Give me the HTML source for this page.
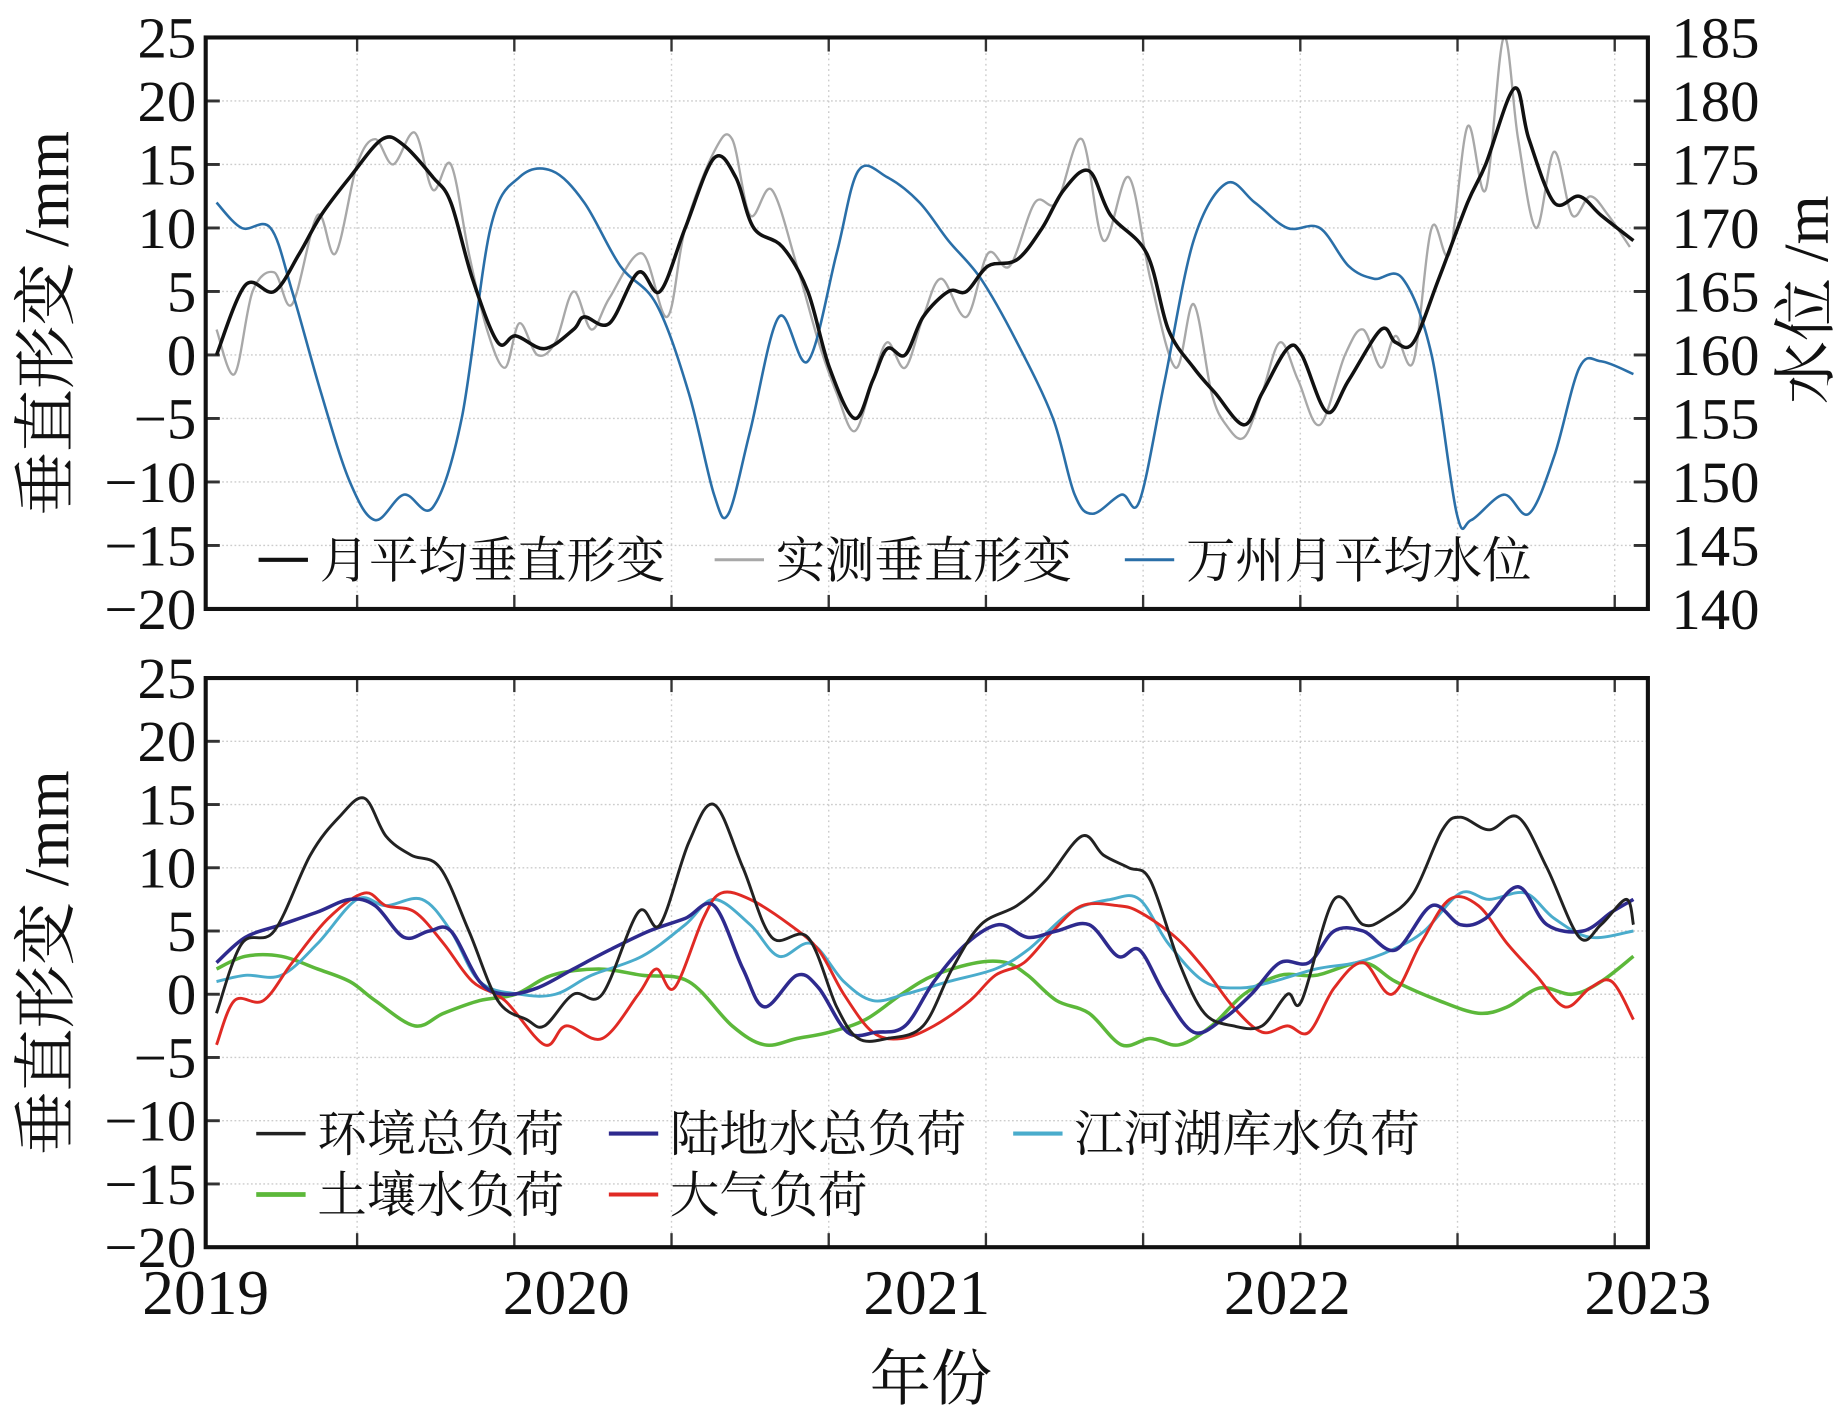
<!DOCTYPE html>
<html><head><meta charset="utf-8"><style>
html,body{margin:0;padding:0;background:#fff;}
svg{display:block;}
text{font-family:"Liberation Serif","Noto Serif CJK SC",serif;fill:#111;}
.cjk{font-family:"Liberation Serif","Noto Serif CJK SC","Noto Sans CJK SC",serif;}
</style></head><body>
<svg id="chart" width="1843" height="1417" viewBox="0 0 1568 1210" preserveAspectRatio="none" xmlns="http://www.w3.org/2000/svg">
<g id="topPanel"></g>
<g id="botPanel"></g>
</svg>
<script>
// ---- data (decimal years / values) ----
const yTicks=[25,20,15,10,5,0,-5,-10,-15,-20];
const yTickLabels=["25","20","15","10","5","0","\u22125","\u221210","\u221215","\u221220"];
const rTicks=[185,180,175,170,165,160,155,150,145,140];
const xYears=[2019,2020,2021,2022,2023];

const tMean=[2019.03,2019.11,2019.19,2019.26,2019.32,2019.40,2019.49,2019.55,2019.63,2019.68,2019.74,2019.81,2019.86,2019.94,2020.02,2020.05,2020.12,2020.20,2020.26,2020.33,2020.41,2020.47,2020.52,2020.60,2020.67,2020.73,2020.80,2020.85,2020.89,2020.94,2020.99,2021.06,2021.11,2021.17,2021.25,2021.32,2021.38,2021.45,2021.51,2021.61,2021.67,2021.74,2021.80,2021.88,2021.93,2022.00,2022.04,2022.11,2022.17,2022.26,2022.30,2022.35,2022.42,2022.50,2022.55,2022.63,2022.67,2022.74,2022.81,2022.87,2022.96];
const vMean=[0,5.5,5,8,11,14,17,16.5,14,12,6,1,1.5,0.5,2,3,2.5,6.5,5,10,15.5,14,10,8.5,5,-1,-5,-2,0.5,0,3,5,5,7,7.5,10,13,14.5,11,8,2,-1,-3,-5.5,-3,0.5,0,-4.5,-2,2,1,1,6,12,15,21,17,12,12.5,11,9];

const tObs=[2019.03,2019.08,2019.13,2019.19,2019.24,2019.31,2019.36,2019.42,2019.47,2019.52,2019.58,2019.63,2019.68,2019.73,2019.78,2019.83,2019.87,2019.92,2019.97,2020.02,2020.07,2020.12,2020.21,2020.28,2020.33,2020.41,2020.46,2020.51,2020.57,2020.64,2020.70,2020.75,2020.80,2020.85,2020.89,2020.94,2020.99,2021.04,2021.11,2021.17,2021.23,2021.30,2021.36,2021.43,2021.49,2021.56,2021.62,2021.69,2021.74,2021.79,2021.83,2021.88,2021.93,2021.98,2022.03,2022.09,2022.16,2022.21,2022.26,2022.30,2022.35,2022.40,2022.45,2022.50,2022.55,2022.60,2022.64,2022.69,2022.74,2022.79,2022.84,2022.89,2022.95];
const vObs=[2,-1.5,5,6.5,4,11,8,15,17,15,17.5,13,15,8,2,-1,2.5,0,1,5,2,4.5,8,3,10,16,17,11,13,7,1,-3,-6,-2,1,-1,3,6,3,8,7,12,12,17,9,14,6,-1,4,-3,-5.5,-6.5,-3,1,-2,-5.5,0,2,-1,1.5,-0.5,10,8,18,13,25,17,10,16,11,12.5,11,8.5];

const tLevel=[2019.03,2019.10,2019.18,2019.24,2019.32,2019.40,2019.47,2019.55,2019.63,2019.71,2019.79,2019.87,2019.96,2020.05,2020.15,2020.25,2020.34,2020.41,2020.45,2020.51,2020.59,2020.67,2020.75,2020.81,2020.89,2020.98,2021.06,2021.15,2021.25,2021.35,2021.41,2021.46,2021.54,2021.59,2021.66,2021.74,2021.83,2021.91,2022.00,2022.09,2022.17,2022.24,2022.32,2022.40,2022.47,2022.51,2022.60,2022.67,2022.74,2022.81,2022.87,2022.96];
const vLevel=[172,170,170,165,157,150,147,149,148,155,170,174,174.5,172,167,164,157,149,147.5,154,163,159.5,168,174.5,174,172,169,166,161,155,149,147.5,149,148.5,158,169,173.5,172,170,170,167,166,166,160,147.5,147,149,147.5,152,159,159.5,158.5];

const tEnv=[2019.03,2019.10,2019.19,2019.29,2019.37,2019.44,2019.50,2019.57,2019.65,2019.73,2019.81,2019.89,2019.94,2020.02,2020.10,2020.20,2020.26,2020.34,2020.41,2020.49,2020.57,2020.67,2020.75,2020.81,2020.89,2020.99,2021.07,2021.15,2021.25,2021.33,2021.43,2021.49,2021.56,2021.62,2021.70,2021.77,2021.85,2021.93,2022.00,2022.04,2022.13,2022.21,2022.27,2022.35,2022.43,2022.48,2022.56,2022.64,2022.72,2022.81,2022.87,2022.94,2022.96];
const vEnv=[-1.5,4,5,11,14,15.5,12.5,11,10,5,-0.5,-2,-2.5,0,0,6.5,5.5,12,15,10,4.5,4.5,-1,-3.5,-3.5,-2.5,2,5.5,7,9,12.5,11,10,9,2.5,-1.5,-2.5,-2.5,0,-0.5,7.5,5.5,6,8,13,14,13,14,10,4.5,5.5,7.5,5.5];

const tLand=[2019.03,2019.11,2019.21,2019.31,2019.40,2019.47,2019.55,2019.62,2019.68,2019.76,2019.83,2019.92,2020.02,2020.12,2020.23,2020.33,2020.41,2020.49,2020.55,2020.64,2020.70,2020.78,2020.86,2020.94,2021.02,2021.11,2021.20,2021.28,2021.36,2021.45,2021.53,2021.59,2021.66,2021.74,2021.82,2021.90,2021.98,2022.06,2022.13,2022.21,2022.30,2022.40,2022.48,2022.55,2022.64,2022.72,2022.82,2022.90,2022.96];
const vLand=[2.5,4.5,5.5,6.5,7.5,7,4.5,5,5,1,0,0.5,2,3.5,5,6,7,2,-1,1.5,0.5,-3,-3,-2.5,1,4,5.5,4.5,5,5.5,3,3.5,0,-3,-2,0,2.5,2.5,5,5,3.5,7,5.5,6,8.5,5.5,5,6.5,7.5];

const tRiver=[2019.03,2019.11,2019.21,2019.31,2019.42,2019.50,2019.60,2019.68,2019.76,2019.87,2019.97,2020.07,2020.21,2020.33,2020.41,2020.51,2020.59,2020.68,2020.77,2020.85,2020.94,2021.06,2021.19,2021.28,2021.40,2021.51,2021.59,2021.67,2021.77,2021.87,2021.96,2022.08,2022.19,2022.29,2022.38,2022.48,2022.56,2022.66,2022.74,2022.84,2022.96];
const vRiver=[1,1.5,1.5,4,7.5,7,7.5,5,1,0,0,1.5,3,5.5,7.5,5.5,3,4,1,-0.5,0,1,2,3.5,6.5,7.5,7.5,4,1,0.5,1,2,2.5,3.5,5,8,7.5,8,6,4.5,5];

const tSoil=[2019.03,2019.11,2019.21,2019.31,2019.40,2019.47,2019.58,2019.66,2019.76,2019.86,2019.96,2020.09,2020.21,2020.34,2020.46,2020.55,2020.64,2020.73,2020.83,2020.93,2021.02,2021.14,2021.22,2021.28,2021.36,2021.45,2021.54,2021.62,2021.70,2021.79,2021.88,2021.98,2022.08,2022.21,2022.30,2022.42,2022.53,2022.61,2022.70,2022.79,2022.87,2022.96];
const vSoil=[2,3,3,2,1,-0.5,-2.5,-1.5,-0.5,0,1.5,2,1.5,1,-2.5,-4,-3.5,-3,-2,0,1.5,2.5,2.5,1.5,-0.5,-1.5,-4,-3.5,-4,-2.5,0,1.5,1.5,2.5,1,-0.5,-1.5,-1,0.5,0,1,3];

const tAtm=[2019.03,2019.08,2019.16,2019.24,2019.34,2019.44,2019.50,2019.58,2019.66,2019.74,2019.83,2019.94,2020.00,2020.10,2020.20,2020.25,2020.30,2020.38,2020.43,2020.51,2020.62,2020.70,2020.77,2020.85,2020.93,2021.02,2021.12,2021.19,2021.27,2021.35,2021.43,2021.53,2021.59,2021.69,2021.77,2021.85,2021.93,2022.00,2022.06,2022.13,2022.21,2022.29,2022.37,2022.45,2022.53,2022.61,2022.69,2022.77,2022.84,2022.90,2022.96];
const vAtm=[-4,-0.5,-0.5,2.5,6,8,7,6.5,4,1,-0.5,-4,-2.5,-3.5,0,2,0.5,6,8,7.5,5.5,3.5,0,-3,-3.5,-2.5,-0.5,1.5,2.5,5,7,7,6.5,4.5,2,-1,-3,-2.5,-3,0.5,2.5,0,4,7.5,7,4,1.5,-1,0.5,1,-2];

// ---- geometry ----
const X0=175,X1=1402;
const xs=t=>X0+(t-2019)/4*(X1-X0);
const P1={top:32,bot:520}, P2={top:579,bot:1065};
const ysTop=v=>P1.top+(25-v)/45*(P1.bot-P1.top);
const ysR=v=>P1.top+(185-v)/45*(P1.bot-P1.top);
const ysBot=v=>P2.top+(25-v)/45*(P2.bot-P2.top);
const NS="http://www.w3.org/2000/svg";
function mk(tag,attrs,parent){const e=document.createElementNS(NS,tag);for(const k in attrs)e.setAttribute(k,attrs[k]);parent.appendChild(e);return e;}
function smooth(pts){let d=`M${pts[0][0].toFixed(1)},${pts[0][1].toFixed(1)}`;
 for(let i=0;i<pts.length-1;i++){const p0=pts[Math.max(i-1,0)],p1=pts[i],p2=pts[i+1],p3=pts[Math.min(i+2,pts.length-1)];
  const c1=[p1[0]+(p2[0]-p0[0])/6,p1[1]+(p2[1]-p0[1])/6],c2=[p2[0]-(p3[0]-p1[0])/6,p2[1]-(p3[1]-p1[1])/6];
  d+=`C${c1[0].toFixed(1)},${c1[1].toFixed(1)} ${c2[0].toFixed(1)},${c2[1].toFixed(1)} ${p2[0].toFixed(1)},${p2[1].toFixed(1)}`;}return d;}

function panel(g,P,ys){
 for(const v of yTicks){const y=ys(v);
  const gl=mk('line',{x1:X0,x2:X1,y1:y,y2:y,stroke:'#ccc','stroke-width':1.2,'stroke-dasharray':'1.5,2'},g);
  
  
  const tk=mk('line',{x1:X0,x2:X0+12,y1:y,y2:y,stroke:'#333','stroke-width':2.5},g);
  
  }
 for(let t=2019.42;t<2023;t+=0.436){const x=xs(t);
  const gl=mk('line',{x1:x,x2:x,y1:P.top,y2:P.bot,stroke:'#ccc','stroke-width':1.2,'stroke-dasharray':'1.5,3'},g);
  
  
  for(const [a,b] of [[P.top,P.top+12],[P.bot-12,P.bot]]){const tk=mk('line',{x1:x,x2:x,y1:a,y2:b,stroke:'#333','stroke-width':2},g);
  
  }}
 yTicks.forEach((v,i)=>{const t=mk('text',{x:X0-8,y:ys(v)+17,'text-anchor':'end','font-size':50},g);t.textContent=yTickLabels[i];
  
  });
 const yt=mk('text',{x:0,y:0,'text-anchor':'middle','font-size':54,class:'cjk',transform:`translate(58,${(P.top+P.bot)/2}) rotate(-90)`},g);
 yt.textContent='垂直形变 /mm';
 
 
}
function series(g,ts,vs,ys,color,w,name){
 const pts=ts.map((t,i)=>[xs(t),ys(vs[i])]);
 const p=mk('path',{d:smooth(pts),fill:'none',stroke:color,'stroke-width':w,'stroke-linejoin':'round'},g);
 
 
}
function legend(g,x,y,color,w,label,name){
 const l=mk('line',{x1:x,x2:x+42,y1:y,y2:y,stroke:color,'stroke-width':w},g);
 
 
 const t=mk('text',{x:x+52,y:y+15,'font-size':42,class:'cjk'},g);t.textContent=label;
 
 
}
const gTop=document.getElementById('topPanel'),gBot=document.getElementById('botPanel');
panel(gTop,P1,ysTop);
rTicks.forEach(v=>{const y=ysR(v);
 const tk=mk('line',{x1:X1-12,x2:X1,y1:y,y2:y,stroke:'#333','stroke-width':2.5},gTop);
 
 
 const t=mk('text',{x:X1+20,y:y+17,'font-size':50},gTop);t.textContent=String(v);
 
 });
const rt=mk('text',{x:0,y:0,'text-anchor':'middle','font-size':54,class:'cjk',transform:`translate(1555,${(P1.top+P1.bot)/2-20}) rotate(-90)`},gTop);
rt.textContent='水位 /m';


series(gTop,tObs,vObs,ysTop,'#a8a8a8',2,'observed-deformation-line');
series(gTop,tLevel,vLevel,ysR,'#2a6fa8',2.2,'water-level-line');
series(gTop,tMean,vMean,ysTop,'#111',3,'monthly-mean-deformation-line');
legend(gTop,220,478,'#111',3.5,'月平均垂直形变','legend-monthly-mean');
legend(gTop,608,478,'#a8a8a8',2.5,'实测垂直形变','legend-observed');
legend(gTop,957,478,'#2a6fa8',2.5,'万州月平均水位','legend-water-level');
let frame=mk('rect',{x:X0,y:P1.top,width:X1-X0,height:P1.bot-P1.top,fill:'none',stroke:'#111','stroke-width':3.5},gTop);



panel(gBot,P2,ysBot);
series(gBot,tSoil,vSoil,ysBot,'#5cb83a',3,'soil-water-load-line');
series(gBot,tRiver,vRiver,ysBot,'#4aaccc',2.5,'river-lake-load-line');
series(gBot,tAtm,vAtm,ysBot,'#e02a24',2.5,'atmosphere-load-line');
series(gBot,tLand,vLand,ysBot,'#2e2a8e',3,'land-water-load-line');
series(gBot,tEnv,vEnv,ysBot,'#222',2.5,'environment-load-line');
legend(gBot,218,968,'#222',3,'环境总负荷','legend-environment');
legend(gBot,518,968,'#2e2a8e',3.5,'陆地水总负荷','legend-land-water');
legend(gBot,862,968,'#4aaccc',3.5,'江河湖库水负荷','legend-river-lake');
legend(gBot,218,1020,'#5cb83a',4,'土壤水负荷','legend-soil-water');
legend(gBot,518,1020,'#e02a24',3.5,'大气负荷','legend-atmosphere');
frame=mk('rect',{x:X0,y:P2.top,width:X1-X0,height:P2.bot-P2.top,fill:'none',stroke:'#111','stroke-width':3.5},gBot);


xYears.forEach(yr=>{const t=mk('text',{x:xs(yr),y:1122,'text-anchor':'middle','font-size':54},gBot);t.textContent=String(yr);
 
 });
const xt=mk('text',{x:792,y:1195,'text-anchor':'middle','font-size':52,class:'cjk'},gBot);xt.textContent='年份';


</script>
</body></html>
